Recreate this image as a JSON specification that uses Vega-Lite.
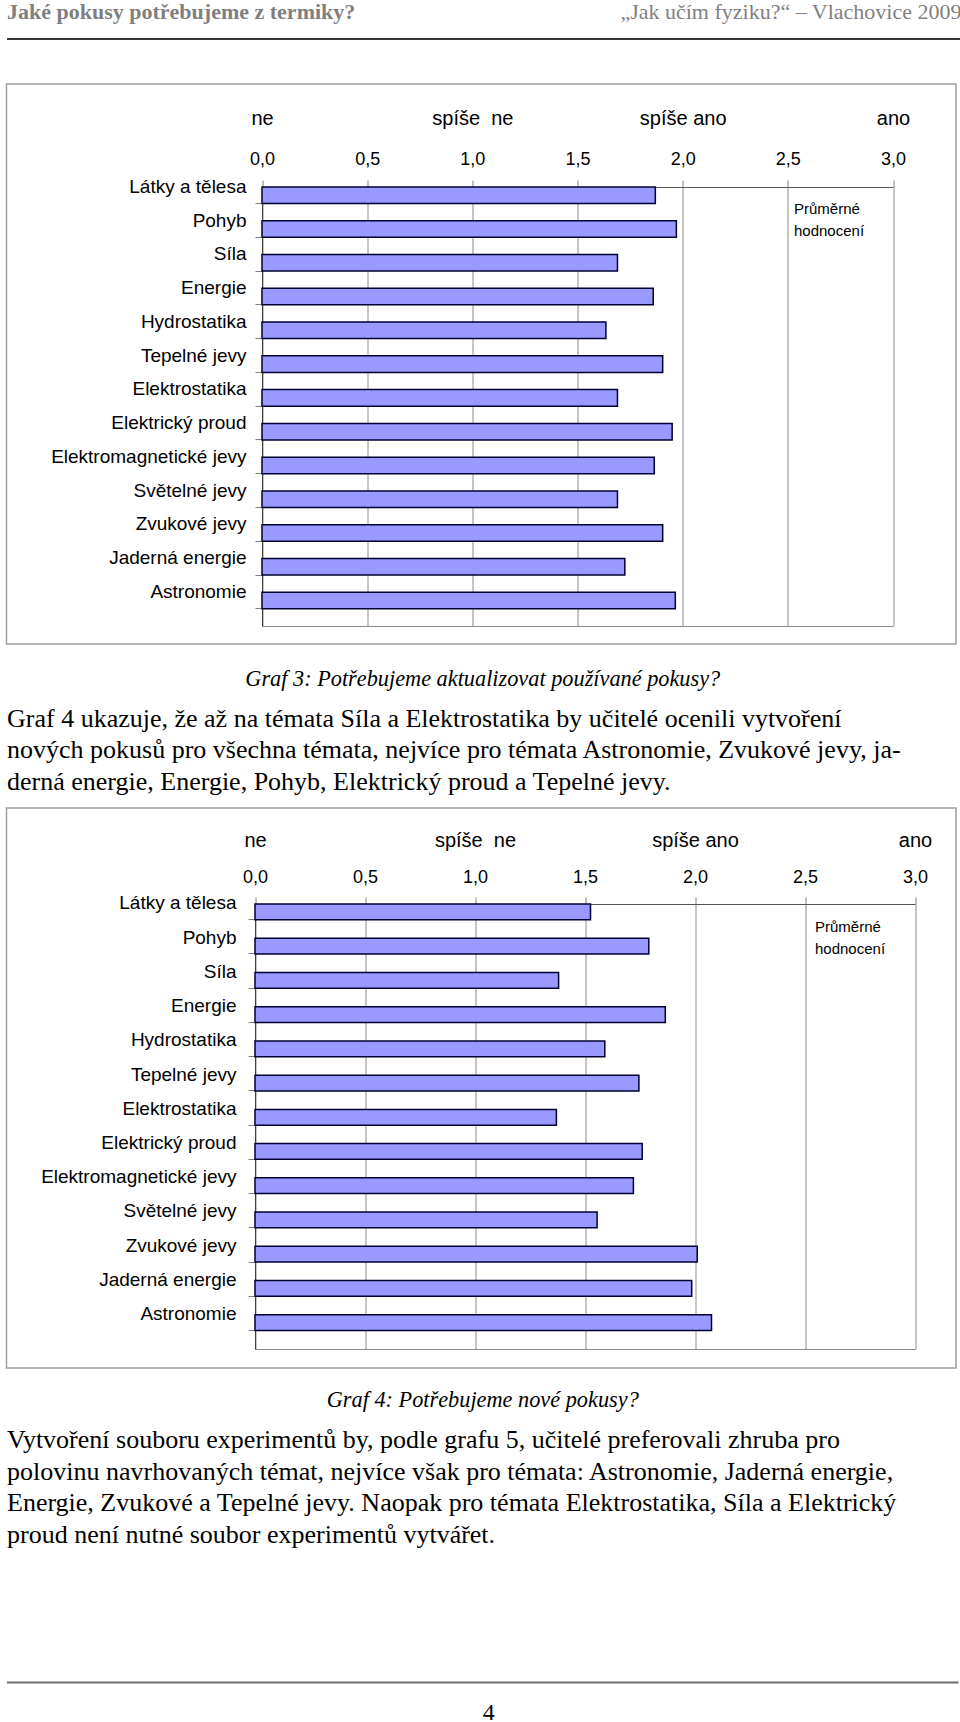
{
  "$schema": "https://vega.github.io/schema/vega-lite/v6.json",
  "padding": {"left": 3.5, "top": 0, "right": 0, "bottom": 0},
  "background": "white",
  "spacing": 0,
  "bounds": "flush",
  "config": {
    "font": "Liberation Sans",
    "view": {"stroke": null},
    "axis": {"labelColor": "#000000", "titleColor": "#000000"},
    "legend": {"padding": 0}
  },
  "resolve": {"scale": {"color": "independent"}, "legend": {"color": "independent"}},
  "datasets": {
    "graf3": [
      {"tema": "Látky a tělesa", "hodnota": 1.87, "rada": "Průměrné hodnocení"},
      {"tema": "Pohyb", "hodnota": 1.97, "rada": "Průměrné hodnocení"},
      {"tema": "Síla", "hodnota": 1.69, "rada": "Průměrné hodnocení"},
      {"tema": "Energie", "hodnota": 1.86, "rada": "Průměrné hodnocení"},
      {"tema": "Hydrostatika", "hodnota": 1.635, "rada": "Průměrné hodnocení"},
      {"tema": "Tepelné jevy", "hodnota": 1.905, "rada": "Průměrné hodnocení"},
      {"tema": "Elektrostatika", "hodnota": 1.69, "rada": "Průměrné hodnocení"},
      {"tema": "Elektrický proud", "hodnota": 1.95, "rada": "Průměrné hodnocení"},
      {"tema": "Elektromagnetické jevy", "hodnota": 1.865, "rada": "Průměrné hodnocení"},
      {"tema": "Světelné jevy", "hodnota": 1.69, "rada": "Průměrné hodnocení"},
      {"tema": "Zvukové jevy", "hodnota": 1.905, "rada": "Průměrné hodnocení"},
      {"tema": "Jaderná energie", "hodnota": 1.725, "rada": "Průměrné hodnocení"},
      {"tema": "Astronomie", "hodnota": 1.965, "rada": "Průměrné hodnocení"}
    ],
    "graf4": [
      {"tema": "Látky a tělesa", "hodnota": 1.525, "rada": "Průměrné hodnocení"},
      {"tema": "Pohyb", "hodnota": 1.79, "rada": "Průměrné hodnocení"},
      {"tema": "Síla", "hodnota": 1.38, "rada": "Průměrné hodnocení"},
      {"tema": "Energie", "hodnota": 1.865, "rada": "Průměrné hodnocení"},
      {"tema": "Hydrostatika", "hodnota": 1.59, "rada": "Průměrné hodnocení"},
      {"tema": "Tepelné jevy", "hodnota": 1.745, "rada": "Průměrné hodnocení"},
      {"tema": "Elektrostatika", "hodnota": 1.37, "rada": "Průměrné hodnocení"},
      {"tema": "Elektrický proud", "hodnota": 1.76, "rada": "Průměrné hodnocení"},
      {"tema": "Elektromagnetické jevy", "hodnota": 1.72, "rada": "Průměrné hodnocení"},
      {"tema": "Světelné jevy", "hodnota": 1.555, "rada": "Průměrné hodnocení"},
      {"tema": "Zvukové jevy", "hodnota": 2.01, "rada": "Průměrné hodnocení"},
      {"tema": "Jaderná energie", "hodnota": 1.985, "rada": "Průměrné hodnocení"},
      {"tema": "Astronomie", "hodnota": 2.075, "rada": "Průměrné hodnocení"}
    ]
  },
  "vconcat": [
    {
      "width": 956.5,
      "height": 83,
      "data": {"values": [{"v": 0}]},
      "resolve": {"axis": {"x": "independent"}},
      "layer": [
        {
          "mark": {"type": "point", "opacity": 0},
          "encoding": {
            "y": {"field": "v", "type": "quantitative", "axis": null},
            "x": {"field": "v", "type": "quantitative", "scale": {"domain": [0, 1], "range": [0, 954.5]},
              "axis": {"orient": "top", "offset": -37.5, "domain": true, "domainColor": "#3a3a3a", "domainWidth": 2,
                "ticks": false, "labels": false, "grid": false, "minExtent": 0, "maxExtent": 0,
                "title": "Jaké pokusy potřebujeme z termiky?", "titleFont": "Liberation Serif", "titleFontSize": 22,
                "titleFontWeight": "bold", "titleColor": "#7f7f7f", "titleAnchor": "start", "titleAlign": "left",
                "titleBaseline": "alphabetic", "titlePadding": 20.5, "titleLimit": 2000}}
          }
        },
        {
          "mark": {"type": "point", "opacity": 0},
          "encoding": {
            "y": {"field": "v", "type": "quantitative", "axis": null},
            "x": {"field": "v", "type": "quantitative",
              "axis": {"orient": "top", "offset": -37.5, "domain": false,
                "ticks": false, "labels": false, "grid": false, "minExtent": 0, "maxExtent": 0,
                "title": "„Jak učím fyziku?“ – Vlachovice 2009", "titleFont": "Liberation Serif", "titleFontSize": 22,
                "titleFontWeight": "normal", "titleColor": "#7f7f7f", "titleAnchor": "end", "titleAlign": "right",
                "titleBaseline": "alphabetic", "titlePadding": 20.5, "titleLimit": 2000}}
          }
        }
      ]
    },
    {
      "width": 949.5,
      "height": 560,
      "view": {"stroke": "#a0a0a0", "strokeWidth": 1.5},
      "data": {"name": "graf3"},
      "resolve": {"axis": {"x": "independent"}},
      "layer": [
        {
          "mark": {"type": "bar", "stroke": "#000033", "strokeWidth": 1.5},
          "encoding": {
            "y": {"field": "tema", "type": "nominal", "sort": null,
              "scale": {"range": [103, 542], "paddingInner": 0.51, "paddingOuter": 0.255, "align": 0},
              "axis": {"orient": "left", "offset": -255.5, "title": null, "domain": true, "domainColor": "#404040",
                "ticks": true, "tickSize": 7, "tickColor": "#808080", "bandPosition": 1, "labelFont": "Liberation Sans",
                "labelFontSize": 19, "labelPadding": 9, "labelOffset": -8.5, "labelLimit": 400, "grid": false}},
            "x": {"field": "hodnota", "type": "quantitative",
              "scale": {"domain": [0, 3], "range": [255.5, 886.5], "nice": false},
              "axis": {"orient": "top", "offset": -103, "title": null, "values": [0, 0.5, 1, 1.5, 2, 2.5, 3],
                "labelExpr": "replace(format(datum.value, '.1f'), '.', ',')", "grid": true, "gridColor": "#8c8c8c",
                "gridWidth": 1, "domain": true, "domainColor": "#555555", "tickSize": 7, "tickColor": "#808080",
                "labelFont": "Liberation Sans", "labelFontSize": 18, "labelPadding": 11.7, "labelFlush": false,
                "labelOverlap": false}},
            "color": {"field": "rada", "type": "nominal", "scale": {"range": ["#9999ff"]},
              "legend": {"orient": "none", "legendX": 787.5, "legendY": 118, "title": ["Průměrné", "hodnocení"],
                "titleFont": "Liberation Sans", "titleFontSize": 15, "titleFontWeight": "normal",
                "titleLineHeight": 22, "titleColor": "#000000", "labelExpr": "''", "symbolSize": 0,
                "symbolStrokeWidth": 0, "symbolOpacity": 0}}
          }
        },
        {
          "mark": {"type": "point", "opacity": 0},
          "encoding": {
            "y": {"field": "tema", "type": "nominal", "sort": null,
              "axis": {"orient": "left", "offset": -255.5, "title": null, "domain": true, "domainColor": "#404040",
                "ticks": true, "tickSize": 7, "tickColor": "#808080", "bandPosition": 1, "labelFont": "Liberation Sans",
                "labelFontSize": 19, "labelPadding": 9, "labelOffset": -8.5, "labelLimit": 400, "grid": false}},
            "x": {"field": "hodnota", "type": "quantitative",
              "axis": {"orient": "top", "offset": -103, "title": null, "values": [0, 1, 2, 3],
                "labelExpr": "datum.value === 0 ? 'ne' : datum.value === 1 ? 'spíše\u00a0\u00a0ne' : datum.value === 2 ? 'spíše ano' : 'ano'",
                "ticks": false, "tickSize": 0, "domain": false, "grid": false, "labelFont": "Liberation Sans",
                "labelFontSize": 20, "labelPadding": 58.6, "labelFlush": false, "labelOverlap": false}}
          }
        },
        {
          "mark": {"type": "point", "opacity": 0},
          "encoding": {
            "y": {"field": "tema", "type": "nominal", "sort": null,
              "axis": {"orient": "left", "offset": -255.5, "title": null, "domain": true, "domainColor": "#404040",
                "ticks": true, "tickSize": 7, "tickColor": "#808080", "bandPosition": 1, "labelFont": "Liberation Sans",
                "labelFontSize": 19, "labelPadding": 9, "labelOffset": -8.5, "labelLimit": 400, "grid": false}},
            "x": {"field": "hodnota", "type": "quantitative",
              "axis": {"orient": "bottom", "offset": -18, "title": null, "labels": false, "ticks": false,
                "grid": false, "domain": true, "domainColor": "#8c8c8c"}}
          }
        }
      ]
    },
    {
      "width": 956.5,
      "height": 164,
      "data": {"values": [{"v": 0}]},
      "resolve": {"axis": {"x": "independent"}},
      "layer": [
        {
          "mark": {"type": "point", "opacity": 0},
          "encoding": {
            "y": {"field": "v", "type": "quantitative", "axis": null},
            "x": {"field": "v", "type": "quantitative", "scale": {"domain": [0, 1], "range": [0, 951.5]},
              "axis": {"orient": "top", "offset": -41, "domain": false, "ticks": false, "labels": false, "grid": false,
                "minExtent": 0, "maxExtent": 0, "title": "Graf 3: Potřebujeme aktualizovat používané pokusy?",
                "titleFont": "Liberation Serif", "titleFontSize": 22.3, "titleFontStyle": "italic", "titleFontWeight": "normal",
                "titleAnchor": "middle", "titleBaseline": "alphabetic", "titlePadding": 0, "titleLimit": 2000}}
          }
        },
        {
          "mark": {"type": "point", "opacity": 0},
          "encoding": {
            "y": {"field": "v", "type": "quantitative", "axis": null},
            "x": {"field": "v", "type": "quantitative",
              "axis": {"orient": "top", "offset": -145, "domain": false, "ticks": false, "labels": false, "grid": false,
                "minExtent": 0, "maxExtent": 0,
                "title": [
                  "\u00a0\u00a0\u00a0\u00a0\u00a0Graf 4 ukazuje, že až na témata Síla a Elektrostatika by učitelé ocenili vytvoření",
                  "nových pokusů pro všechna témata, nejvíce pro témata Astronomie, Zvukové jevy, ja-",
                  "derná energie, Energie, Pohyb, Elektrický proud a Tepelné jevy."
                ],
                "titleFont": "Liberation Serif", "titleFontSize": 26, "titleFontWeight": "normal", "titleLineHeight": 31.5,
                "titleAnchor": "start", "titleAlign": "left", "titleBaseline": "alphabetic", "titlePadding": 0,
                "titleLimit": 2000}}
          }
        }
      ]
    },
    {
      "width": 949.5,
      "height": 560,
      "view": {"stroke": "#a0a0a0", "strokeWidth": 1.5},
      "data": {"name": "graf4"},
      "resolve": {"axis": {"x": "independent"}},
      "layer": [
        {
          "mark": {"type": "bar", "stroke": "#000033", "strokeWidth": 1.5},
          "encoding": {
            "y": {"field": "tema", "type": "nominal", "sort": null,
              "scale": {"range": [96, 541], "paddingInner": 0.54, "paddingOuter": 0.27, "align": 0},
              "axis": {"orient": "left", "offset": -248.5, "title": null, "domain": true, "domainColor": "#404040",
                "ticks": true, "tickSize": 7, "tickColor": "#808080", "bandPosition": 1, "labelFont": "Liberation Sans",
                "labelFontSize": 19, "labelPadding": 12, "labelOffset": -8.5, "labelLimit": 400, "grid": false}},
            "x": {"field": "hodnota", "type": "quantitative",
              "scale": {"domain": [0, 3], "range": [248.5, 908.5], "nice": false},
              "axis": {"orient": "top", "offset": -96, "title": null, "values": [0, 0.5, 1, 1.5, 2, 2.5, 3],
                "labelExpr": "replace(format(datum.value, '.1f'), '.', ',')", "grid": true, "gridColor": "#8c8c8c",
                "gridWidth": 1, "domain": true, "domainColor": "#555555", "tickSize": 7, "tickColor": "#808080",
                "labelFont": "Liberation Sans", "labelFontSize": 18, "labelPadding": 10.7, "labelFlush": false,
                "labelOverlap": false}},
            "color": {"field": "rada", "type": "nominal", "scale": {"range": ["#9999ff"]},
              "legend": {"orient": "none", "legendX": 808.5, "legendY": 112, "title": ["Průměrné", "hodnocení"],
                "titleFont": "Liberation Sans", "titleFontSize": 15, "titleFontWeight": "normal",
                "titleLineHeight": 22, "titleColor": "#000000", "labelExpr": "''", "symbolSize": 0,
                "symbolStrokeWidth": 0, "symbolOpacity": 0}}
          }
        },
        {
          "mark": {"type": "point", "opacity": 0},
          "encoding": {
            "y": {"field": "tema", "type": "nominal", "sort": null,
              "axis": {"orient": "left", "offset": -248.5, "title": null, "domain": true, "domainColor": "#404040",
                "ticks": true, "tickSize": 7, "tickColor": "#808080", "bandPosition": 1, "labelFont": "Liberation Sans",
                "labelFontSize": 19, "labelPadding": 12, "labelOffset": -8.5, "labelLimit": 400, "grid": false}},
            "x": {"field": "hodnota", "type": "quantitative",
              "axis": {"orient": "top", "offset": -96, "title": null, "values": [0, 1, 2, 3],
                "labelExpr": "datum.value === 0 ? 'ne' : datum.value === 1 ? 'spíše\u00a0\u00a0ne' : datum.value === 2 ? 'spíše ano' : 'ano'",
                "ticks": false, "tickSize": 0, "domain": false, "grid": false, "labelFont": "Liberation Sans",
                "labelFontSize": 20, "labelPadding": 53.6, "labelFlush": false, "labelOverlap": false}}
          }
        },
        {
          "mark": {"type": "point", "opacity": 0},
          "encoding": {
            "y": {"field": "tema", "type": "nominal", "sort": null,
              "axis": {"orient": "left", "offset": -248.5, "title": null, "domain": true, "domainColor": "#404040",
                "ticks": true, "tickSize": 7, "tickColor": "#808080", "bandPosition": 1, "labelFont": "Liberation Sans",
                "labelFontSize": 19, "labelPadding": 12, "labelOffset": -8.5, "labelLimit": 400, "grid": false}},
            "x": {"field": "hodnota", "type": "quantitative",
              "axis": {"orient": "bottom", "offset": -19, "title": null, "labels": false, "ticks": false,
                "grid": false, "domain": true, "domainColor": "#8c8c8c"}}
          }
        }
      ]
    },
    {
      "width": 956.5,
      "height": 355,
      "data": {"values": [{"v": 0}]},
      "resolve": {"axis": {"x": "independent"}},
      "layer": [
        {
          "mark": {"type": "point", "opacity": 0},
          "encoding": {
            "y": {"field": "v", "type": "quantitative", "axis": null},
            "x": {"field": "v", "type": "quantitative", "scale": {"domain": [0, 1], "range": [0, 951.5]},
              "axis": {"orient": "top", "offset": -38, "domain": false, "ticks": false, "labels": false, "grid": false,
                "minExtent": 0, "maxExtent": 0, "title": "Graf 4: Potřebujeme nové pokusy?",
                "titleFont": "Liberation Serif", "titleFontSize": 22.3, "titleFontStyle": "italic", "titleFontWeight": "normal",
                "titleAnchor": "middle", "titleBaseline": "alphabetic", "titlePadding": 0, "titleLimit": 2000}}
          }
        },
        {
          "mark": {"type": "point", "opacity": 0},
          "encoding": {
            "y": {"field": "v", "type": "quantitative", "axis": null},
            "x": {"field": "v", "type": "quantitative",
              "axis": {"orient": "top", "offset": -314, "domain": true, "domainColor": "#6e6e6e", "domainWidth": 2,
                "ticks": false, "labels": false, "grid": false, "minExtent": 0, "maxExtent": 0,
                "title": [
                  "\u00a0\u00a0\u00a0\u00a0\u00a0Vytvoření souboru experimentů by, podle grafu 5, učitelé preferovali zhruba pro",
                  "polovinu navrhovaných témat, nejvíce však pro témata: Astronomie, Jaderná energie,",
                  "Energie, Zvukové a Tepelné jevy. Naopak pro témata Elektrostatika, Síla a Elektrický",
                  "proud není nutné soubor experimentů vytvářet."
                ],
                "titleFont": "Liberation Serif", "titleFontSize": 26, "titleFontWeight": "normal", "titleLineHeight": 31.5,
                "titleAnchor": "start", "titleAlign": "left", "titleBaseline": "alphabetic", "titlePadding": 140,
                "titleLimit": 2000}}
          }
        },
        {
          "mark": {"type": "point", "opacity": 0},
          "encoding": {
            "y": {"field": "v", "type": "quantitative", "axis": null},
            "x": {"field": "v", "type": "quantitative",
              "axis": {"orient": "bottom", "offset": -41, "domain": false, "ticks": false, "labels": false, "grid": false,
                "minExtent": 0, "maxExtent": 0, "title": "\u00a0\u00a0\u00a0\u00a04",
                "titleFont": "Liberation Serif", "titleFontSize": 24, "titleFontWeight": "normal",
                "titleAnchor": "middle", "titleAlign": "left", "titleBaseline": "alphabetic", "titlePadding": 37,
                "titleLimit": 2000}}
          }
        }
      ]
    }
  ]
}
